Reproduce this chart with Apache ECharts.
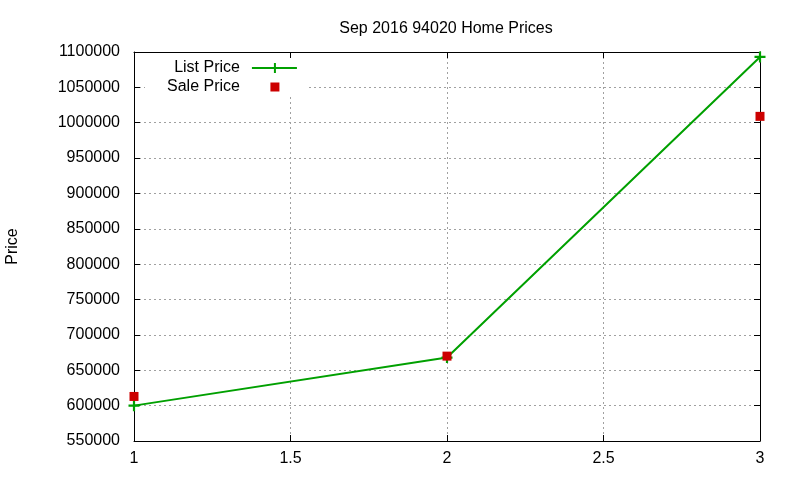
<!DOCTYPE html>
<html>
<head>
<meta charset="utf-8">
<script src="https://cdn.jsdelivr.net/npm/echarts@6/dist/echarts.min.js"></script>
<style>html,body{margin:0;padding:0;background:#fff}#c{width:800px;height:480px}</style>
</head>
<body>
<div id="c"></div>
<script>
var xValues = [1, 2, 3];
var listPrice = [600000, 668000, 1093000];
var salePrice = [613000, 670000, 1009000];
var seriesNames = ['List Price', 'Sale Price'];
var titleText = 'Sep 2016 94020 Home Prices';
var yName = 'Price';

var font = 'Liberation Sans, Arial, sans-serif';
var gridStyle = {show: true, lineStyle: {color: '#a0a0a0', type: [2, 3], width: 1}};
var chart = echarts.init(document.getElementById('c'));
var axisLine = {show: true, lineStyle: {color: '#000', width: 1}};
var tick = {show: true, inside: true, length: 6, lineStyle: {color: '#000'}};
var label = {color: '#000', fontFamily: font, fontSize: 16};

chart.setOption({
  animation: false,
  backgroundColor: '#fff',
  title: {
    text: titleText, left: 441, top: 16, textAlign: 'center',
    textStyle: {fontFamily: font, fontSize: 16, fontWeight: 'normal', color: '#000'}
  },
  legend: {
    orient: 'vertical', left: 145, top: 58, align: 'right',
    itemWidth: 59, itemHeight: 14, itemGap: 3,
    backgroundColor: '#fff', padding: [2, 5, 2, 22],
    textStyle: {fontFamily: font, fontSize: 16, color: '#000'},
    data: [
      {name: seriesNames[0], icon: 'path://M0,0M59,14M7,6h45v2h-45zM29,2h2v10h-2z'},
      {name: seriesNames[1], icon: 'path://M0,0M59,14M25.5,2.5h9v9h-9z'}
    ]
  },
  grid: {left: 134, right: 40, top: 52, bottom: 39, containLabel: false, outerBoundsMode: 'none'},
  xAxis: [
    {type: 'value', min: 1, max: 3, interval: 0.5, axisLine: axisLine, axisTick: tick,
     axisLabel: Object.assign({margin: 10}, label), splitLine: gridStyle},
    {type: 'value', position: 'top', min: 1, max: 3, interval: 0.5, axisLine: axisLine, axisTick: tick,
     axisLabel: {show: false}, splitLine: {show: false}}
  ],
  yAxis: [
    {type: 'value', min: 550000, max: 1100000, interval: 50000, axisLine: axisLine, axisTick: tick,
     axisLabel: Object.assign({margin: 14, formatter: function (v) { return String(v); }}, label),
     splitLine: gridStyle,
     name: yName, nameLocation: 'middle', nameGap: 113, nameRotate: 90,
     nameTextStyle: {fontFamily: font, fontSize: 16, color: '#000'}},
    {type: 'value', position: 'right', min: 550000, max: 1100000, interval: 50000, axisLine: axisLine, axisTick: tick,
     axisLabel: {show: false}, splitLine: {show: false}}
  ],
  series: [
    {
      name: seriesNames[0], type: 'line',
      data: xValues.map(function (x, i) { return [x, listPrice[i]]; }),
      symbol: 'path://M4,0h2v4h4v2h-4v4h-2v-4h-4v-2h4z', symbolSize: 11, showSymbol: true,
      lineStyle: {color: '#00a000', width: 2},
      itemStyle: {color: '#00a000'}, z: 2
    },
    {
      name: seriesNames[1], type: 'scatter',
      data: xValues.map(function (x, i) { return [x, salePrice[i]]; }),
      symbol: 'rect', symbolSize: 9,
      itemStyle: {color: '#cc0000', opacity: 1}, z: 3
    }
  ]
});
</script>
</body>
</html>
